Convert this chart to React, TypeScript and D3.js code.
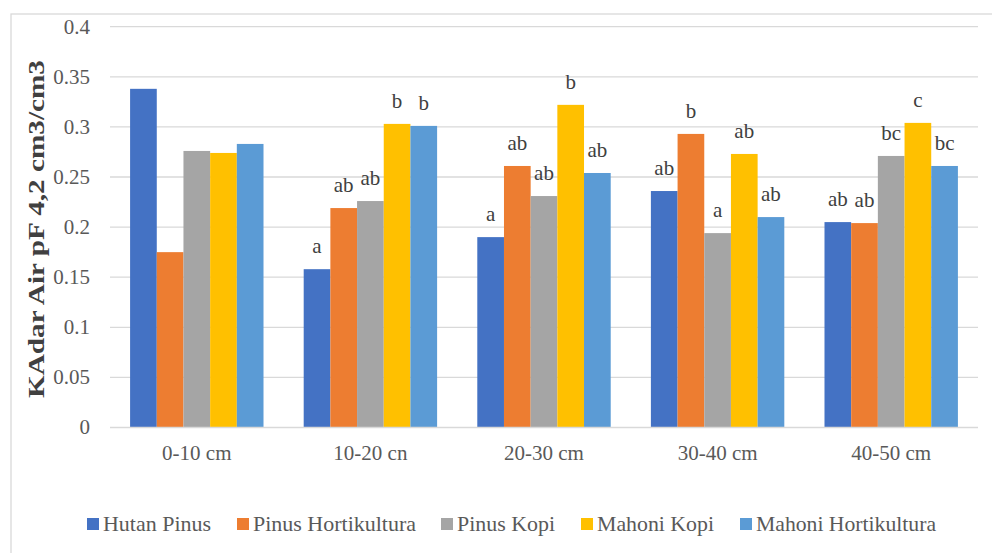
import React from "react";
import * as d3 from "d3";

const categories = ["0-10 cm", "10-20 cn", "20-30 cm", "30-40 cm", "40-50 cm"];
const seriesNames = ["Hutan Pinus", "Pinus Hortikultura", "Pinus Kopi", "Mahoni Kopi", "Mahoni Hortikultura"];
const seriesColors = ["#4472C4", "#ED7D31", "#A5A5A5", "#FFC000", "#5B9BD5"];

const hutanPinus = [0.338, 0.158, 0.19, 0.236, 0.205];
const pinusHortikultura = [0.175, 0.219, 0.261, 0.293, 0.204];
const pinusKopi = [0.276, 0.226, 0.231, 0.194, 0.271];
const mahoniKopi = [0.274, 0.303, 0.322, 0.273, 0.304];
const mahoniHortikultura = [0.283, 0.301, 0.254, 0.21, 0.261];

// significance letters per series, per depth ("" = no label)
const lettersHutanPinus = ["", "a", "a", "ab", "ab"];
const lettersPinusHortikultura = ["", "ab", "ab", "b", "ab"];
const lettersPinusKopi = ["", "ab", "ab", "a", "bc"];
const lettersMahoniKopi = ["", "b", "b", "ab", "c"];
const lettersMahoniHortikultura = ["", "b", "ab", "ab", "bc"];

const yTicks = [0, 0.05, 0.1, 0.15, 0.2, 0.25, 0.3, 0.35, 0.4];
const yTickLabels = ["0", "0.05", "0.1", "0.15", "0.2", "0.25", "0.3", "0.35", "0.4"];

const values = [hutanPinus, pinusHortikultura, pinusKopi, mahoniKopi, mahoniHortikultura];
const letters = [lettersHutanPinus, lettersPinusHortikultura, lettersPinusKopi, lettersMahoniKopi, lettersMahoniHortikultura];

const W = 992;
const H = 553;
const plotLeft = 110;
const plotRight = 978;
const plotTop = 26.7;
const plotBottom = 427.5;
const FONT = "'Liberation Serif', 'DejaVu Serif', serif";
const TEXT = "#595959";

export default function App() {
  const x = d3.scaleBand<string>().domain(categories).range([plotLeft, plotRight]).paddingInner(0).paddingOuter(0);
  const catW = x.bandwidth();
  const gap = catW * 0.2315;
  const xs = d3.scaleBand<string>().domain(seriesNames).range([gap / 2, catW - gap / 2]).padding(0);
  const y = d3.scaleLinear().domain([0, 0.4]).range([plotBottom, plotTop]);

  const legendX = [87, 237, 441, 581, 740];
  const legendTextLen = [108, 163, 98, 117, 180];

  return (
    <svg width={W} height={H} style={{ position: "absolute", left: 0, top: 0, background: "#fff" }}>
      <rect x={11} y={14} width={W} height={H} fill="#fff" stroke="#d9d9d9" strokeWidth={1.3} />
      {yTicks.map((t, i) => (
        <g key={"t" + i}>
          {t > 0 && (
            <line x1={plotLeft} x2={plotRight} y1={y(t)} y2={y(t)} stroke="#d9d9d9" strokeWidth={1.3} />
          )}
          <text x={90} y={y(t)} dy="0.33em" textAnchor="end" fontFamily={FONT} fontSize={21} fill={TEXT}>
            {yTickLabels[i]}
          </text>
        </g>
      ))}
      {categories.map((c, ci) => (
        <g key={c} transform={`translate(${x(c)},0)`}>
          {seriesNames.map((s, si) => {
            const v = values[si][ci];
            const bx = xs(s)!;
            return (
              <g key={s}>
                <rect x={bx} y={y(v)} width={xs.bandwidth()} height={plotBottom - y(v)} fill={seriesColors[si]} />
                {letters[si][ci] && (
                  <text x={bx + xs.bandwidth() / 2} y={y(v) - 22} dy="0.3em" textAnchor="middle" fontFamily={FONT} fontSize={21} fill="#404040">
                    {letters[si][ci]}
                  </text>
                )}
              </g>
            );
          })}
          <text x={catW / 2} y={453} dy="0.33em" textAnchor="middle" fontFamily={FONT} fontSize={21} fill={TEXT}>
            {c}
          </text>
        </g>
      ))}
      <line x1={plotLeft} x2={plotRight} y1={plotBottom} y2={plotBottom} stroke="#d9d9d9" strokeWidth={1.5} />
      <text
        transform={`translate(36,229) rotate(-90)`}
        textAnchor="middle"
        dy="0.33em"
        fontFamily={FONT}
        fontSize={23}
        fontWeight="bold"
        fill="#404040"
        textLength={338}
        lengthAdjust="spacingAndGlyphs"
      >
        KAdar Air pF 4,2 cm3/cm3
      </text>
      {seriesNames.map((s, si) => (
        <g key={"l" + s} transform={`translate(${legendX[si]},524)`}>
          <rect x={0} y={-6} width={12} height={12} fill={seriesColors[si]} />
          <text x={16} y={0} dy="0.33em" fontFamily={FONT} fontSize={21} fill={TEXT} textLength={legendTextLen[si]} lengthAdjust="spacingAndGlyphs">
            {s}
          </text>
        </g>
      ))}
    </svg>
  );
}
